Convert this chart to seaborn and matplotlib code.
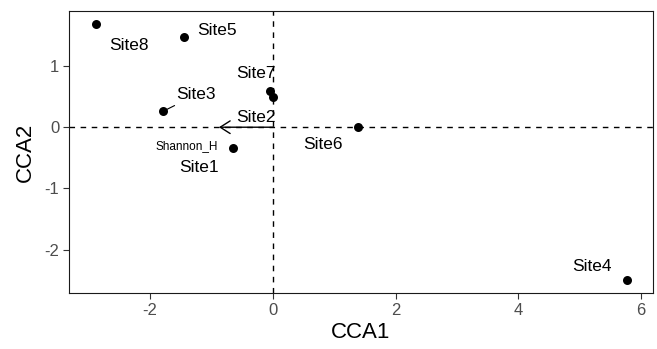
"""CCA biplot of sites with the Shannon_H environmental vector."""
import matplotlib
matplotlib.use('Agg')
import matplotlib.pyplot as plt
from matplotlib.ticker import MultipleLocator
import pandas as pd
import seaborn as sns

# site scores
sites = ['Site1', 'Site2', 'Site3', 'Site4', 'Site5', 'Site6', 'Site7', 'Site8']
cca1 = [-0.65, 0.00, -1.79, 5.76, -1.45, 1.38, -0.05, -2.89]
cca2 = [-0.34, 0.50, 0.26, -2.50, 1.47, 0.01, 0.59, 1.69]

# environmental vector
env_names = ['Shannon_H']
env_cca1 = [-0.88]
env_cca2 = [0.00]

# label placement (offsets from the point, data units), as a repel layout would give
label_dx = [-0.56, -0.28, 0.54, -0.57, 0.54, -0.57, -0.23, 0.55]
label_dy = [-0.32, -0.34, 0.27, 0.23, 0.11, -0.29, 0.29, -0.35]
env_label_dx = [-0.52]
env_label_dy = [-0.31]

df = pd.DataFrame({'site': sites, 'CCA1': cca1, 'CCA2': cca2})

sns.set_theme(style='white')
plt.rcParams['font.family'] = ['Liberation Sans', 'DejaVu Sans']
plt.rcParams['axes.unicode_minus'] = False

fig = plt.figure(figsize=(6.57, 3.49), dpi=100)
ax = fig.add_axes([0.105, 0.1605, 0.889, 0.808])

ax.axhline(0, color='black', ls=(0, (4, 4)), lw=1, zorder=1)
ax.axvline(0, color='black', ls=(0, (4, 4)), lw=1, zorder=1)

sns.scatterplot(data=df, x='CCA1', y='CCA2', ax=ax, color='black', s=42,
                edgecolor='black', linewidth=0, zorder=3, legend=False)

for name, x, y, dx, dy in zip(sites, cca1, cca2, label_dx, label_dy):
    if name == 'Site3':
        ax.annotate(name, xy=(x, y), xytext=(x + dx, y + dy), fontsize=12.5,
                    ha='center', va='center', color='black',
                    arrowprops=dict(arrowstyle='-', color='black', lw=0.8,
                                    shrinkA=0, shrinkB=3))
    else:
        ax.text(x + dx, y + dy, name, fontsize=12.5, ha='center', va='center',
                color='black')

for name, x, y, dx, dy in zip(env_names, env_cca1, env_cca2, env_label_dx, env_label_dy):
    ax.annotate('', xy=(x, y), xytext=(0, 0),
                arrowprops=dict(arrowstyle='->, head_length=0.55, head_width=0.35',
                                color='black', lw=1, shrinkA=0, shrinkB=0,
                                mutation_scale=13), zorder=2)
    ax.text(x + dx, y + dy, name, fontsize=8.5, ha='center', va='center',
            color='black')

# ggplot-like 5% expansion
xr = max(cca1) - min(cca1)
yr = max(cca2) - min(cca2)
ax.set_xlim(min(cca1) - 0.05 * xr, max(cca1) + 0.05 * xr)
ax.set_ylim(min(cca2) - 0.05 * yr, max(cca2) + 0.05 * yr)
ax.xaxis.set_major_locator(MultipleLocator(2))
ax.yaxis.set_major_locator(MultipleLocator(1))

ax.set_xlabel('CCA1', fontsize=16, color='black', labelpad=3)
ax.set_ylabel('CCA2', fontsize=16, color='black', labelpad=6)
ax.tick_params(axis='both', which='major', direction='out', length=4, width=0.8,
               color='#333333', labelcolor='#4D4D4D', labelsize=12, pad=3,
               bottom=True, left=True)
for sp in ax.spines.values():
    sp.set_color('#1a1a1a')
    sp.set_linewidth(0.8)

plt.savefig('out.png', dpi=100)
plt.close()
